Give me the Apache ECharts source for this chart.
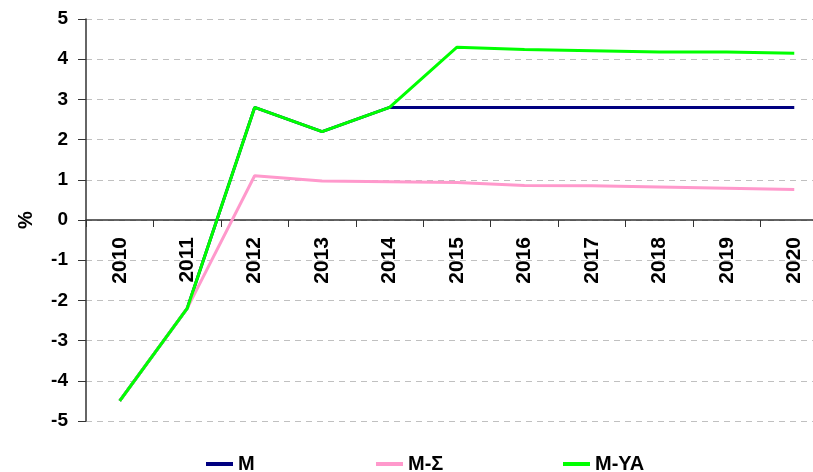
<!DOCTYPE html>
<html>
<head>
<meta charset="utf-8">
<script src="https://cdn.jsdelivr.net/npm/echarts@6/dist/echarts.min.js"></script>
<style>
  html, body {margin: 0; padding: 0; background: #fff;}
  #chart {width: 813px; height: 472px;}
</style>
</head>
<body>
<div id="chart"></div>
<script>
// years on the x axis
const years = ['2010', '2011', '2012', '2013', '2014', '2015', '2016', '2017', '2018', '2019', '2020']
// series values, %
const seriesM = [-4.5, -2.2, 2.8, 2.2, 2.8, 2.8, 2.8, 2.8, 2.8, 2.8, 2.8]
const seriesMS = [-4.5, -2.2, 1.1, 0.97, 0.95, 0.93, 0.86, 0.85, 0.82, 0.79, 0.76]
const seriesMYA = [-4.5, -2.2, 2.8, 2.2, 2.8, 4.3, 4.24, 4.21, 4.18, 4.18, 4.15]
const names = ['M', 'M-Σ', 'M-YA']
const colors = ['#000080', '#ff99cc', '#00ff00']

const chart = echarts.init(document.getElementById('chart'))

const font = 'Liberation Sans, Arial, sans-serif'
const legendAt = [206, 376, 563]

const option = {
  animation: false,
  color: colors,
  grid: {left: 86, right: -15, top: 19, bottom: 51, outerBoundsMode: 'none', containLabel: false},
  legend: names.map((n, i) => ({
    data: [{name: n, icon: 'rect'}],
    left: legendAt[i],
    top: 454,
    padding: 0,
    itemWidth: 27,
    itemHeight: 4,
    itemGap: 4,
    itemStyle: {borderWidth: 0},
    lineStyle: {width: 0},
    textStyle: {fontFamily: font, fontWeight: 'bold', fontSize: 20, color: '#000'}
  })),
  xAxis: {
    type: 'category',
    data: years,
    boundaryGap: true,
    // axis sits on the zero line (half way up the grid)
    offset: -201,
    axisLine: {onZero: false, lineStyle: {color: '#333', width: 1.5}},
    axisTick: {show: true, length: 7, lineStyle: {color: '#333'}},
    axisLabel: {
      rotate: 90, margin: 17, interval: 0,
      fontFamily: font, fontWeight: 'bold', fontSize: 21, color: '#000'
    },
    splitLine: {show: false}
  },
  yAxis: {
    type: 'value',
    min: -5, max: 5, interval: 1,
    name: '%',
    nameLocation: 'middle',
    nameRotate: 90,
    nameGap: 50,
    nameTextStyle: {fontFamily: font, fontWeight: 'bold', fontSize: 20, color: '#000'},
    axisLine: {show: true, lineStyle: {color: '#333', width: 1.5}},
    axisTick: {show: true, length: 8, lineStyle: {color: '#333'}},
    axisLabel: {margin: 18, fontFamily: font, fontWeight: 'bold', fontSize: 19, color: '#000'},
    splitLine: {show: true, lineStyle: {color: '#c0c0c0', type: [6, 5], width: 1}}
  },
  series: [
    {name: names[0], type: 'line', data: seriesM, symbol: 'none', lineStyle: {width: 3}},
    {name: names[1], type: 'line', data: seriesMS, symbol: 'none', lineStyle: {width: 3}},
    {name: names[2], type: 'line', data: seriesMYA, symbol: 'none', lineStyle: {width: 3}}
  ]
}

chart.setOption(option)
</script>
</body>
</html>
